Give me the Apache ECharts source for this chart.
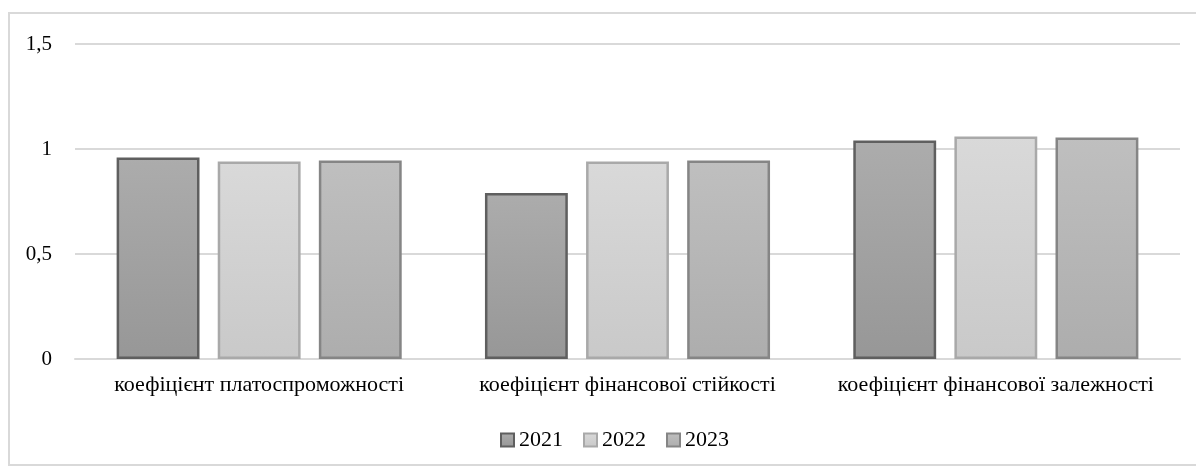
<!DOCTYPE html>
<html>
<head>
<meta charset="utf-8">
<script src="https://cdn.jsdelivr.net/npm/echarts@6/dist/echarts.min.js"></script>
<style>
  html, body { margin: 0; padding: 0; background: #fff; }
  #chart { width: 1196px; height: 470px; }
</style>
</head>
<body>
<div id="chart"></div>
<script>
// Categories and yearly ratio values
const categories = [
  'коефіцієнт платоспроможності',
  'коефіцієнт фінансової стійкості',
  'коефіцієнт фінансової залежності'
];
const years = ['2021', '2022', '2023'];
const values2021 = [0.96, 0.79, 1.04];
const values2022 = [0.94, 0.94, 1.06];
const values2023 = [0.945, 0.945, 1.055];
const yTicks = [0, 0.5, 1, 1.5];

const seriesData = [values2021, values2022, values2023];
const fills = [
  ['#acacac', '#979797'],
  ['#d9d9d9', '#c9c9c9'],
  ['#bfbfbf', '#adadad']
];
const borders = ['#5f5f5f', '#a9a9a9', '#858585'];
const font = 'Liberation Serif, Times New Roman, serif';

const chart = echarts.init(document.getElementById('chart'));
chart.setOption({
  animation: false,
  backgroundColor: '#fff',
  graphic: [{
    type: 'rect',
    shape: { x: 9, y: 13, width: 1200, height: 452 },
    style: { fill: 'none', stroke: '#d9d9d9', lineWidth: 2 },
    silent: true
  }],
  grid: { left: 75, right: 16, top: 44, bottom: 111 },
  legend: {
    bottom: 14,
    left: 495,
    icon: 'rect',
    itemWidth: 13,
    itemHeight: 13,
    itemGap: 20,
    textStyle: { fontFamily: font, fontSize: 22, color: '#000' },
    data: years
  },
  xAxis: {
    type: 'category',
    data: categories,
    axisLine: { lineStyle: { color: '#d9d9d9', width: 2 } },
    axisTick: { show: false },
    axisLabel: { fontFamily: font, fontSize: 22, color: '#000', margin: 15, interval: 0 }
  },
  yAxis: {
    type: 'value',
    min: yTicks[0],
    max: yTicks[yTicks.length - 1],
    interval: 0.5,
    axisLabel: {
      fontFamily: font, fontSize: 21, color: '#000', margin: 23,
      formatter: v => String(v).replace('.', ',')
    },
    splitLine: { lineStyle: { color: '#d9d9d9', width: 2 } },
    axisLine: { show: false },
    axisTick: { show: false }
  },
  series: years.map((y, i) => ({
    name: y,
    type: 'bar',
    data: seriesData[i],
    barWidth: '22.5%',
    barGap: '22%',
    itemStyle: {
      color: new echarts.graphic.LinearGradient(0, 0, 0, 1, [
        { offset: 0, color: fills[i][0] },
        { offset: 1, color: fills[i][1] }
      ]),
      borderColor: borders[i],
      borderWidth: 2.5
    }
  }))
});
</script>
</body>
</html>
